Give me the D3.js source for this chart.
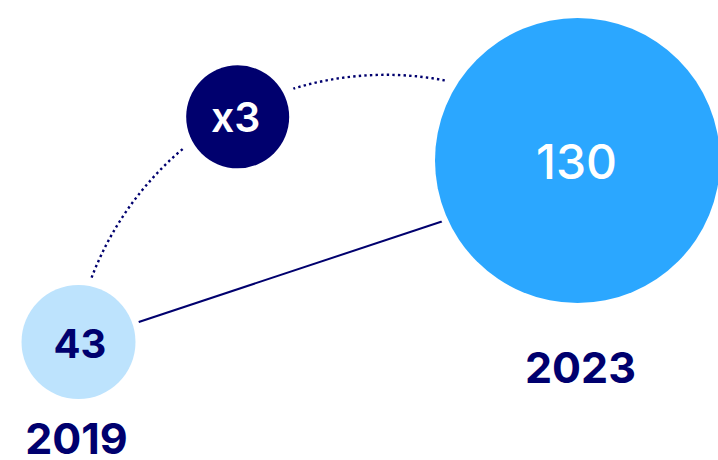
<!DOCTYPE html>
<html>
<head>
<meta charset="utf-8">
<script src="https://cdn.jsdelivr.net/npm/d3@7"></script>
<style>
  html, body { margin: 0; padding: 0; background: #fff; }
  svg { display: block; }
</style>
</head>
<body>
<div id="chart"></div>
<script>
//////////////////////////// data /////////////////////////////////////////

const years = ["2019", "2023"];
const values = [43, 130];
const growthLabel = ["x3"];

//////////////////////////// set up ////////////////////////////////////////

const width = 718;
const height = 460;

const navy = "#00006e";
const fills = ["#bde3fd", "#2ba7ff"];
const valueColors = [navy, "#ffffff"];
const font = "Inter, 'Liberation Sans', Arial, sans-serif";

const svg = d3.select("#chart").append("svg")
  .attr("width", width)
  .attr("height", height);

//////////////////////////// scales ///////////////////////////////////////

const xScale = d3.scalePoint().domain(years).range([78.5, 577.5]);
const yScale = d3.scaleLinear().domain([43, 130]).range([342, 160.5]);
const rScale = d3.scaleLinear().domain([43, 130]).range([57, 142.5]);

const bubbles = years.map((y, i) => ({
  year: y,
  value: values[i],
  cx: xScale(y),
  cy: yScale(values[i]),
  r: rScale(values[i]),
  fill: fills[i],
  color: valueColors[i]
}));

const [a, b] = bubbles;

//////////////////////////// connectors ///////////////////////////////////

// solid line from the 2019 bubble toward the lower part of 2023 bubble
svg.append("line")
  .attr("x1", a.cx)
  .attr("y1", a.cy)
  .attr("x2", b.cx)
  .attr("y2", b.cy + 16)
  .attr("stroke", navy)
  .attr("stroke-width", 2);

// dotted arc over the top (one open stroke, so the dots don't double up)
const arcC = { x: 385.6, y: 389.3, r: 314.5 };
const deg = Math.PI / 180;
const arcPath = d3.path();
arcPath.arc(arcC.x, arcC.y, arcC.r, -159.2 * deg, -78.6 * deg, false);

svg.append("path")
  .attr("d", arcPath.toString())
  .attr("fill", "none")
  .attr("stroke", navy)
  .attr("stroke-width", 2.4)
  .attr("stroke-dasharray", "2.4 3.2");

//////////////////////////// bubbles //////////////////////////////////////

// white halos to open gaps round the connectors
svg.selectAll(".halo")
  .data(bubbles)
  .join("circle")
  .attr("class", "halo")
  .attr("cx", d => d.cx)
  .attr("cy", d => d.cy)
  .attr("r", d => d.r + 6.5)
  .attr("fill", "#fff");

svg.selectAll(".bubble")
  .data(bubbles)
  .join("circle")
  .attr("class", "bubble")
  .attr("cx", d => d.cx)
  .attr("cy", d => d.cy)
  .attr("r", d => d.r)
  .attr("fill", d => d.fill);

svg.selectAll(".value")
  .data(bubbles)
  .join("text")
  .attr("class", "value")
  .attr("x", (d, i) => d.cx + (i === 0 ? 1.5 : -1))
  .attr("y", (d, i) => d.cy + (i === 0 ? 16 : 18.5))
  .attr("text-anchor", "middle")
  .attr("font-family", font)
  .attr("font-size", (d, i) => (i === 0 ? 40 : 48))
  .attr("font-weight", (d, i) => (i === 0 ? 700 : 500))
  .attr("fill", d => d.color)
  .text(d => d.value);

svg.selectAll(".year")
  .data(bubbles)
  .join("text")
  .attr("class", "year")
  .attr("x", (d, i) => d.cx + (i === 0 ? -2 : 3))
  .attr("y", (d, i) => d.cy + d.r + (i === 0 ? 55 : 80))
  .attr("text-anchor", "middle")
  .attr("font-family", font)
  .attr("font-size", 43)
  .attr("font-weight", 700)
  .attr("fill", navy)
  .text(d => d.year);

//////////////////////////// growth badge /////////////////////////////////

const badgeAngle = -118.5 * deg;
const badge = {
  cx: arcC.x + 310 * Math.cos(badgeAngle),
  cy: arcC.y + 310 * Math.sin(badgeAngle),
  r: 51.5
};

svg.append("circle")
  .attr("cx", badge.cx)
  .attr("cy", badge.cy)
  .attr("r", badge.r + 11)
  .attr("fill", "#fff");

svg.append("circle")
  .attr("cx", badge.cx)
  .attr("cy", badge.cy)
  .attr("r", badge.r)
  .attr("fill", navy);

svg.append("text")
  .attr("x", badge.cx - 2)
  .attr("y", badge.cy + 15)
  .attr("text-anchor", "middle")
  .attr("font-family", font)
  .attr("font-size", 41)
  .attr("font-weight", 600)
  .attr("fill", "#fff")
  .text(growthLabel[0]);
</script>
</body>
</html>
